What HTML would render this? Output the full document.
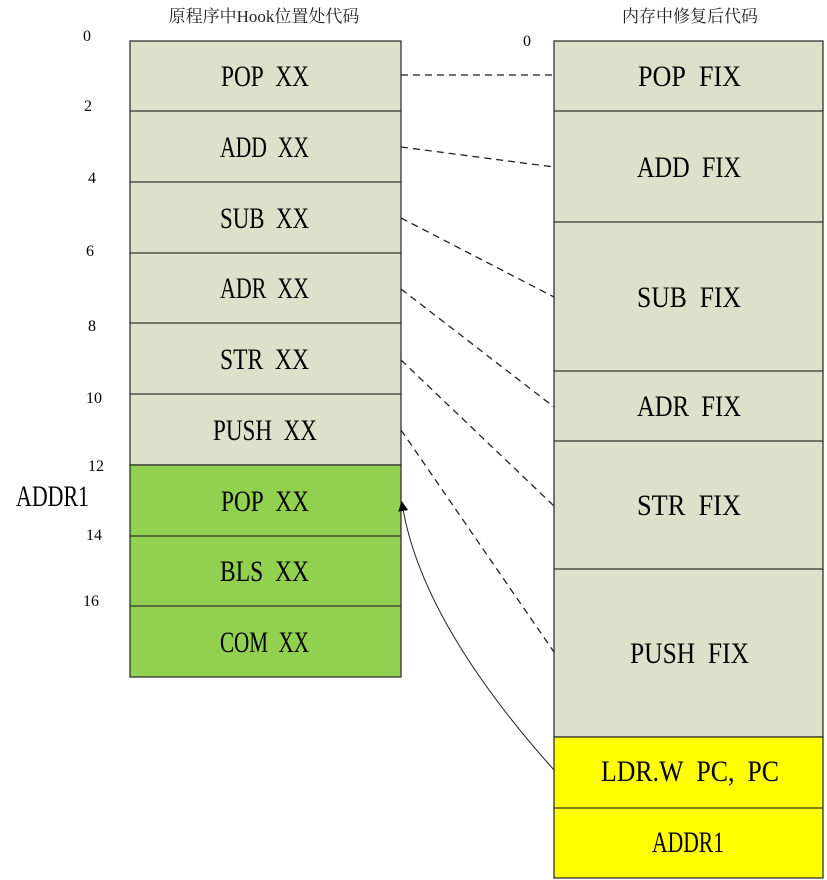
<!DOCTYPE html>
<html><head><meta charset="utf-8"><style>
html,body{margin:0;padding:0;background:#fff;}
svg{display:block;}
.t{font-family:"Liberation Serif","Noto Serif CJK SC",serif;font-size:30px;fill:#000;}
.n{font-family:"Liberation Serif",serif;font-size:16px;fill:#000;}
.h{font-family:"Liberation Serif","Noto Serif CJK SC",serif;font-size:17px;fill:#222;}
</style></head><body>
<svg width="827" height="880" viewBox="0 0 827 880" xmlns="http://www.w3.org/2000/svg">
<defs><marker id="ah" markerWidth="10" markerHeight="10" refX="8" refY="5" orient="auto" markerUnits="userSpaceOnUse"><path d="M0,0 L10,5 L0,10 z" fill="#000"/></marker></defs>
<text class="h" x="264" y="22" text-anchor="middle">原程序中Hook位置处代码</text>
<text class="h" x="690" y="22" text-anchor="middle">内存中修复后代码</text>
<g stroke="#333" stroke-width="1.3">
<rect x="130" y="41" width="271" height="424" fill="#dde0ca"/>
<rect x="130" y="465" width="271" height="212" fill="#92d050"/>
<line x1="130" y1="111" x2="401" y2="111"/><line x1="130" y1="182" x2="401" y2="182"/>
<line x1="130" y1="253" x2="401" y2="253"/><line x1="130" y1="323" x2="401" y2="323"/>
<line x1="130" y1="394" x2="401" y2="394"/><line x1="130" y1="536" x2="401" y2="536"/>
<line x1="130" y1="606" x2="401" y2="606"/>
<rect x="554" y="41" width="269" height="696" fill="#dde0ca"/>
<rect x="554" y="737" width="269" height="141" fill="#ffff00"/>
<line x1="554" y1="111" x2="823" y2="111"/><line x1="554" y1="222" x2="823" y2="222"/>
<line x1="554" y1="371" x2="823" y2="371"/><line x1="554" y1="441" x2="823" y2="441"/>
<line x1="554" y1="569" x2="823" y2="569"/><line x1="554" y1="808" x2="823" y2="808"/>
</g>
<g class="t">
<text x="221" y="86" textLength="88" lengthAdjust="spacingAndGlyphs">POP&#160;&#160;XX</text>
<text x="220" y="157" textLength="89" lengthAdjust="spacingAndGlyphs">ADD&#160;&#160;XX</text>
<text x="220" y="228" textLength="89" lengthAdjust="spacingAndGlyphs">SUB&#160;&#160;XX</text>
<text x="220" y="298" textLength="89" lengthAdjust="spacingAndGlyphs">ADR&#160;&#160;XX</text>
<text x="220" y="369" textLength="89" lengthAdjust="spacingAndGlyphs">STR&#160;&#160;XX</text>
<text x="213" y="440" textLength="104" lengthAdjust="spacingAndGlyphs">PUSH&#160;&#160;XX</text>
<text x="221" y="511" textLength="88" lengthAdjust="spacingAndGlyphs">POP&#160;&#160;XX</text>
<text x="220" y="581" textLength="89" lengthAdjust="spacingAndGlyphs">BLS&#160;&#160;XX</text>
<text x="220" y="652" textLength="89" lengthAdjust="spacingAndGlyphs">COM&#160;&#160;XX</text>
<text x="638" y="86" textLength="103" lengthAdjust="spacingAndGlyphs">POP&#160;&#160;FIX</text>
<text x="637" y="177" textLength="104" lengthAdjust="spacingAndGlyphs">ADD&#160;&#160;FIX</text>
<text x="637" y="307" textLength="104" lengthAdjust="spacingAndGlyphs">SUB&#160;&#160;FIX</text>
<text x="637" y="416" textLength="104" lengthAdjust="spacingAndGlyphs">ADR&#160;&#160;FIX</text>
<text x="637" y="515" textLength="104" lengthAdjust="spacingAndGlyphs">STR&#160;&#160;FIX</text>
<text x="630" y="663" textLength="119" lengthAdjust="spacingAndGlyphs">PUSH&#160;&#160;FIX</text>
<text x="601" y="781" textLength="178" lengthAdjust="spacingAndGlyphs">LDR.W&#160;&#160;PC,&#160;&#160;PC</text>
<text x="652" y="852" textLength="72" lengthAdjust="spacingAndGlyphs">ADDR1</text>
<text x="16" y="506" textLength="73" lengthAdjust="spacingAndGlyphs">ADDR1</text>
</g>
<g class="n">
<text x="83" y="41">0</text><text x="523" y="46">0</text>
<text x="84" y="111">2</text><text x="88" y="183">4</text>
<text x="86" y="256">6</text><text x="88" y="331">8</text>
<text x="86" y="403">10</text><text x="88" y="471">12</text>
<text x="86" y="540">14</text><text x="83" y="606">16</text>
</g>
<g stroke="#222" stroke-width="1.3" stroke-dasharray="7,5" fill="none">
<line x1="401" y1="75" x2="554" y2="75"/>
<line x1="401" y1="147" x2="554" y2="167"/>
<line x1="401" y1="218" x2="554" y2="297"/>
<line x1="401" y1="289" x2="554" y2="407"/>
<line x1="401" y1="360" x2="554" y2="506"/>
<line x1="401" y1="430" x2="554" y2="652"/>
</g>
<path d="M554,770 Q420,620 402,503" stroke="#222" stroke-width="1" fill="none" marker-end="url(#ah)"/>
</svg>
</body></html>
